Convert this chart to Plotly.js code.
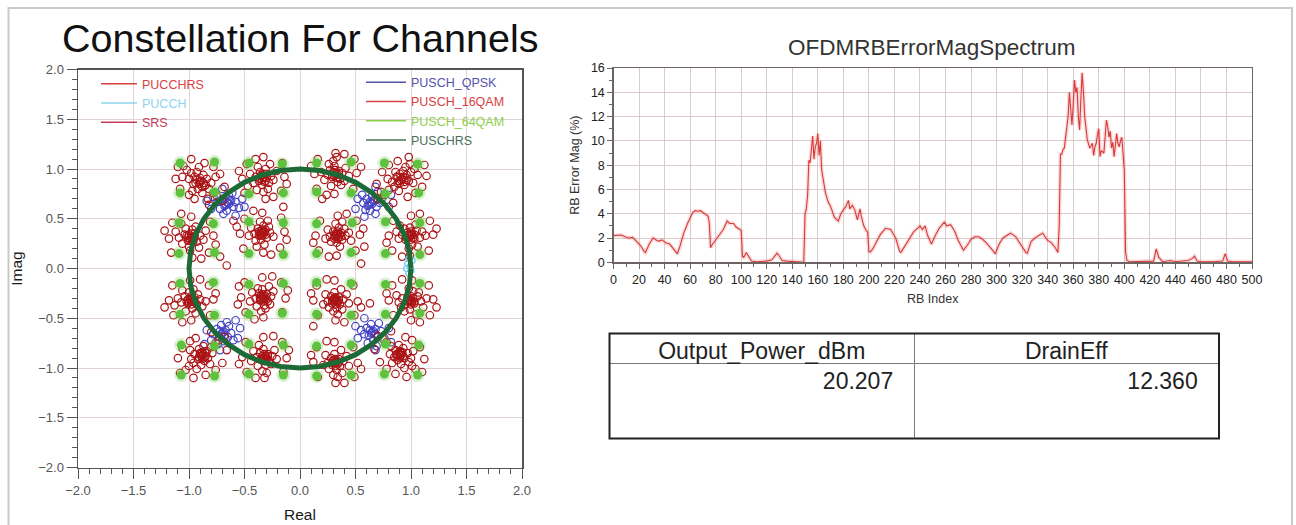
<!DOCTYPE html>
<html>
<head>
<meta charset="utf-8">
<script src="https://cdn.plot.ly/plotly-3.0.1.min.js"></script>
<style>
  html, body { margin: 0; padding: 0; background: #ffffff; }
  #chart { width: 1296px; height: 525px; }
</style>
</head>
<body>
<div id="chart"></div>
<script>
// ---------------- DATA ----------------
// Constellation: PUSCH 16QAM symbols [real, imag]
const qam16Points = [
  [-0.90,0.87],[-0.95,0.92],[-0.86,0.83],[-0.98,0.96],[-0.82,0.80],[-0.92,0.80],[-0.87,0.94],[-1.02,0.99],[-0.78,0.76],[-0.96,0.85],[-0.84,0.90],[-0.93,0.97],[-0.80,0.86],[-1.00,0.90],[-0.88,0.76],[-0.75,0.73],[-1.05,1.03],[-0.91,1.02],[-0.83,0.70],[-0.97,0.78],[-0.76,0.92],[-1.06,0.92],
  [-1.10,1.02],[-0.70,0.68],[-1.08,0.80],[-0.72,0.95],[-0.98,1.10],[-0.82,0.64],[-1.12,0.90],[-0.68,0.82],[-0.95,0.70],[-0.78,1.02],[-1.00,0.74],[-0.86,1.06],
  [-0.89,0.88],[-0.91,0.85],[-0.87,0.86],[-0.93,0.89],[-0.85,0.84],[-0.90,0.91],[-0.88,0.82],[-0.94,0.86],
  [-0.33,0.91],[-0.30,0.95],[-0.37,0.88],[-0.28,0.86],[-0.36,0.97],[-0.40,0.92],[-0.26,0.93],[-0.34,0.84],[-0.31,1.00],[-0.42,0.86],[-0.24,0.89],[-0.38,1.02],[-0.29,0.80],[-0.45,0.95],[-0.33,0.77],[-0.21,0.98],[-0.47,0.83],[-0.27,1.05],[-0.39,0.79],[-0.35,0.94],
  [-0.52,0.90],[-0.14,0.92],[-0.33,1.12],[-0.31,0.70],[-0.48,1.05],[-0.17,0.78],[-0.50,0.76],[-0.16,1.06],[-0.40,1.10],[-0.24,0.72],[-0.55,0.98],[-0.12,0.85],
  [-0.32,0.92],[-0.34,0.89],[-0.31,0.88],[-0.35,0.93],[-0.30,0.91],[-0.36,0.90],[-0.33,0.95],[-0.32,0.87],
  [0.32,0.95],[0.35,0.98],[0.29,0.92],[0.36,0.90],[0.27,0.99],[0.31,1.03],[0.38,0.96],[0.25,0.94],[0.34,0.87],[0.30,1.08],[0.41,1.01],[0.22,0.89],[0.37,0.84],[0.28,0.83],[0.44,0.93],[0.26,1.05],[0.33,1.12],[0.19,0.97],[0.40,0.88],[0.31,0.99],
  [0.13,0.95],[0.51,0.96],[0.32,1.16],[0.31,0.75],[0.16,1.10],[0.48,0.80],[0.15,0.80],[0.49,1.10],[0.40,1.15],[0.24,0.74],[0.55,1.02],[0.10,1.03],
  [0.33,0.96],[0.31,0.93],[0.34,0.92],[0.30,0.97],[0.35,0.95],[0.29,0.94],[0.32,0.99],[0.33,0.91],
  [0.92,0.90],[0.88,0.86],[0.96,0.94],[0.85,0.82],[1.00,0.97],[0.90,0.95],[0.94,0.84],[0.80,0.79],[1.03,1.00],[0.87,0.92],[0.98,0.88],[0.83,0.87],[0.95,1.02],[0.76,0.74],[1.06,0.94],[0.89,0.78],[0.99,1.05],[0.79,0.90],[0.93,0.98],[1.02,0.86],[0.86,0.97],[0.73,0.77],
  [1.12,1.04],[0.70,0.70],[1.10,0.82],[0.74,0.97],[0.98,1.12],[0.84,0.66],[1.14,0.93],[0.69,0.85],[0.97,0.72],[0.80,1.04],[1.04,0.76],[0.88,1.08],
  [0.91,0.89],[0.93,0.92],[0.89,0.88],[0.95,0.91],[0.90,0.86],[0.94,0.87],[0.88,0.92],[0.96,0.89],
  [-0.98,0.31],[-0.95,0.35],[-1.01,0.28],[-0.93,0.27],[-1.04,0.34],[-0.97,0.39],[-1.06,0.25],[-0.90,0.33],[-1.00,0.22],[-0.94,0.42],[-1.09,0.31],[-0.87,0.29],[-1.03,0.40],[-0.99,0.18],[-1.12,0.37],[-0.91,0.21],[-0.85,0.38],[-1.07,0.45],[-0.96,0.30],[-1.02,0.33],
  [-1.18,0.30],[-0.78,0.33],[-0.98,0.52],[-0.97,0.11],[-1.15,0.46],[-0.82,0.16],[-1.16,0.16],[-0.81,0.47],[-1.07,0.55],[-0.89,0.10],[-1.22,0.38],[-0.76,0.24],
  [-0.97,0.32],[-0.99,0.29],[-0.96,0.28],[-1.00,0.34],[-0.95,0.32],[-1.01,0.31],[-0.98,0.35],[-0.97,0.27],
  [-0.34,0.36],[-0.31,0.39],[-0.37,0.33],[-0.30,0.31],[-0.38,0.40],[-0.33,0.43],[-0.41,0.35],[-0.27,0.36],[-0.35,0.29],[-0.40,0.28],[-0.28,0.42],[-0.36,0.47],[-0.44,0.41],[-0.24,0.32],[-0.32,0.24],[-0.46,0.33],[-0.29,0.48],[-0.39,0.22],[-0.33,0.37],[-0.35,0.34],
  [-0.54,0.35],[-0.14,0.37],[-0.34,0.56],[-0.33,0.16],[-0.50,0.50],[-0.18,0.21],[-0.51,0.20],[-0.17,0.51],[-0.42,0.58],[-0.26,0.14],[-0.57,0.42],[-0.12,0.29],
  [-0.33,0.35],[-0.35,0.38],[-0.32,0.37],[-0.36,0.35],[-0.34,0.33],[-0.31,0.34],[-0.37,0.37],[-0.34,0.39],
  [0.34,0.33],[0.37,0.36],[0.31,0.30],[0.38,0.29],[0.30,0.37],[0.35,0.41],[0.41,0.33],[0.27,0.32],[0.33,0.26],[0.40,0.40],[0.28,0.27],[0.36,0.22],[0.44,0.36],[0.25,0.39],[0.32,0.45],[0.46,0.28],[0.23,0.30],[0.38,0.47],[0.34,0.35],[0.32,0.32],
  [0.14,0.33],[0.54,0.34],[0.34,0.53],[0.33,0.13],[0.18,0.48],[0.50,0.18],[0.17,0.18],[0.51,0.48],[0.42,0.55],[0.26,0.12],[0.57,0.40],[0.12,0.26],
  [0.33,0.34],[0.35,0.31],[0.36,0.34],[0.32,0.35],[0.34,0.30],[0.37,0.32],[0.31,0.33],[0.34,0.37],
  [1.00,0.33],[0.97,0.36],[1.03,0.30],[0.95,0.29],[1.05,0.38],[0.99,0.41],[0.92,0.34],[1.08,0.31],[1.01,0.24],[0.94,0.40],[1.10,0.37],[0.89,0.30],[1.04,0.44],[0.98,0.20],[1.13,0.33],[0.90,0.43],[1.06,0.22],[0.87,0.37],[1.01,0.34],[0.96,0.31],
  [0.80,0.33],[1.20,0.34],[1.00,0.53],[0.99,0.13],[0.84,0.48],[1.16,0.18],[0.83,0.18],[1.17,0.48],[1.08,0.55],[0.92,0.12],[1.23,0.40],[0.78,0.26],
  [0.99,0.32],[1.01,0.35],[0.98,0.34],[1.02,0.31],[0.97,0.33],[1.03,0.34],[1.00,0.29],[1.00,0.37],
  [-0.98,-0.32],[-0.95,-0.29],[-1.01,-0.35],[-0.93,-0.36],[-1.04,-0.28],[-0.97,-0.40],[-0.90,-0.31],[-1.07,-0.34],[-1.00,-0.24],[-0.92,-0.26],[-1.10,-0.30],[-0.88,-0.38],[-1.03,-0.43],[-0.96,-0.21],[-1.13,-0.37],[-0.85,-0.33],[-1.06,-0.22],[-0.94,-0.45],[-0.99,-0.31],[-1.02,-0.33],
  [-1.18,-0.32],[-0.78,-0.31],[-0.98,-0.52],[-0.99,-0.12],[-1.14,-0.47],[-0.82,-0.17],[-1.15,-0.17],[-0.81,-0.47],[-1.06,-0.54],[-0.90,-0.11],[-1.22,-0.39],[-0.76,-0.25],
  [-0.97,-0.33],[-0.99,-0.30],[-0.96,-0.31],[-1.00,-0.34],[-0.95,-0.33],[-1.01,-0.31],[-0.98,-0.36],[-0.98,-0.28],
  [-0.33,-0.29],[-0.30,-0.26],[-0.36,-0.32],[-0.29,-0.33],[-0.37,-0.25],[-0.32,-0.37],[-0.40,-0.30],[-0.26,-0.28],[-0.34,-0.21],[-0.39,-0.38],[-0.27,-0.36],[-0.35,-0.43],[-0.43,-0.24],[-0.24,-0.23],[-0.31,-0.40],[-0.45,-0.33],[-0.28,-0.18],[-0.38,-0.20],[-0.33,-0.31],[-0.35,-0.27],
  [-0.53,-0.29],[-0.13,-0.30],[-0.33,-0.49],[-0.34,-0.09],[-0.49,-0.44],[-0.17,-0.14],[-0.50,-0.14],[-0.16,-0.44],[-0.41,-0.51],[-0.25,-0.08],[-0.56,-0.36],[-0.11,-0.22],
  [-0.32,-0.30],[-0.34,-0.28],[-0.31,-0.28],[-0.35,-0.31],[-0.33,-0.26],[-0.30,-0.31],[-0.36,-0.29],[-0.33,-0.33],
  [0.32,-0.32],[0.35,-0.29],[0.29,-0.35],[0.36,-0.36],[0.28,-0.28],[0.33,-0.40],[0.39,-0.31],[0.25,-0.33],[0.31,-0.24],[0.38,-0.41],[0.26,-0.39],[0.34,-0.46],[0.42,-0.26],[0.23,-0.26],[0.30,-0.43],[0.44,-0.35],[0.21,-0.36],[0.37,-0.21],[0.33,-0.33],[0.31,-0.30],
  [0.12,-0.32],[0.52,-0.33],[0.32,-0.52],[0.31,-0.12],[0.16,-0.47],[0.48,-0.17],[0.15,-0.17],[0.49,-0.47],[0.40,-0.54],[0.24,-0.11],[0.55,-0.39],[0.10,-0.25],
  [0.33,-0.31],[0.31,-0.33],[0.34,-0.34],[0.30,-0.31],[0.32,-0.29],[0.35,-0.32],[0.29,-0.32],[0.32,-0.36],
  [1.00,-0.32],[0.97,-0.29],[1.03,-0.35],[0.95,-0.36],[1.06,-0.28],[0.99,-0.41],[0.92,-0.30],[1.09,-0.33],[1.02,-0.23],[0.94,-0.43],[1.11,-0.39],[0.89,-0.34],[1.05,-0.46],[0.98,-0.20],[1.14,-0.30],[0.87,-0.27],[1.07,-0.24],[0.91,-0.39],[1.01,-0.33],[0.97,-0.33],
  [0.80,-0.32],[1.20,-0.31],[1.00,-0.52],[1.01,-0.12],[0.84,-0.47],[1.16,-0.17],[0.83,-0.17],[1.17,-0.47],[1.08,-0.54],[0.92,-0.11],[1.23,-0.39],[0.78,-0.25],
  [0.99,-0.31],[1.01,-0.34],[0.98,-0.33],[1.02,-0.30],[0.97,-0.32],[1.03,-0.33],[1.00,-0.28],[1.00,-0.36],
  [-0.88,-0.87],[-0.84,-0.83],[-0.92,-0.91],[-0.80,-0.79],[-0.96,-0.95],[-0.86,-0.93],[-0.91,-0.81],[-0.76,-0.75],[-1.00,-0.98],[-0.83,-0.90],[-0.95,-0.86],[-0.89,-0.97],[-0.79,-0.85],[-0.98,-0.91],[-0.73,-0.72],[-0.87,-0.78],[-1.03,-1.02],[-0.93,-1.01],[-0.81,-0.96],[-0.99,-0.82],[-0.85,-0.88],[-0.90,-0.85],
  [-1.08,-1.05],[-0.68,-0.69],[-1.06,-0.80],[-0.70,-0.95],[-0.96,-1.10],[-0.80,-0.64],[-1.10,-0.90],[-0.66,-0.82],[-0.94,-0.70],[-0.76,-1.02],[-0.99,-0.73],[-0.85,-1.07],
  [-0.87,-0.86],[-0.89,-0.88],[-0.86,-0.89],[-0.90,-0.86],[-0.88,-0.84],[-0.85,-0.85],[-0.91,-0.89],[-0.88,-0.91],
  [-0.32,-0.89],[-0.29,-0.86],[-0.35,-0.92],[-0.28,-0.93],[-0.36,-0.85],[-0.31,-0.97],[-0.39,-0.89],[-0.25,-0.88],[-0.33,-0.81],[-0.38,-0.98],[-0.26,-0.96],[-0.34,-1.03],[-0.42,-0.83],[-0.23,-0.82],[-0.30,-1.05],[-0.44,-0.93],[-0.21,-0.91],[-0.37,-0.77],[-0.32,-0.90],[-0.30,-0.91],
  [-0.52,-0.89],[-0.12,-0.90],[-0.32,-1.10],[-0.33,-0.69],[-0.48,-1.04],[-0.16,-0.74],[-0.49,-0.74],[-0.15,-1.04],[-0.40,-1.10],[-0.24,-0.68],[-0.55,-0.96],[-0.10,-0.82],
  [-0.31,-0.88],[-0.33,-0.90],[-0.30,-0.90],[-0.34,-0.88],[-0.32,-0.86],[-0.29,-0.88],[-0.35,-0.91],[-0.32,-0.93],
  [0.32,-0.94],[0.35,-0.91],[0.29,-0.97],[0.36,-0.98],[0.28,-0.90],[0.33,-1.02],[0.39,-0.93],[0.25,-0.95],[0.31,-0.86],[0.38,-1.05],[0.26,-1.01],[0.34,-1.09],[0.42,-0.88],[0.23,-0.87],[0.30,-1.07],[0.44,-0.98],[0.21,-0.97],[0.37,-0.82],[0.32,-0.95],[0.30,-0.93],
  [0.12,-0.94],[0.52,-0.95],[0.32,-1.15],[0.31,-0.74],[0.16,-1.09],[0.48,-0.79],[0.15,-0.79],[0.49,-1.09],[0.40,-1.15],[0.24,-0.73],[0.55,-1.01],[0.10,-0.87],
  [0.33,-0.93],[0.31,-0.95],[0.34,-0.96],[0.30,-0.92],[0.32,-0.91],[0.35,-0.94],[0.29,-0.95],[0.32,-0.98],
  [0.90,-0.86],[0.86,-0.82],[0.94,-0.90],[0.82,-0.78],[0.98,-0.94],[0.88,-0.92],[0.93,-0.80],[0.78,-0.74],[1.01,-0.98],[0.85,-0.89],[0.97,-0.85],[0.91,-0.96],[0.81,-0.86],[1.00,-0.90],[0.75,-0.71],[0.89,-0.77],[1.04,-1.01],[0.94,-1.00],[0.83,-0.95],[1.02,-0.83],[0.87,-0.87],[0.92,-0.84],
  [1.10,-1.04],[0.70,-0.68],[1.08,-0.79],[0.72,-0.94],[0.96,-1.09],[0.82,-0.63],[1.12,-0.91],[0.67,-0.81],[0.95,-0.69],[0.78,-1.01],[1.01,-0.72],[0.86,-1.06],
  [0.89,-0.85],[0.91,-0.87],[0.88,-0.88],[0.92,-0.85],[0.90,-0.83],[0.93,-0.88],[0.87,-0.86],[0.90,-0.90],
  [-0.66,0.03],[-0.72,0.12],[0.58,0.22],[-0.55,-0.18],[0.63,-0.35],[-0.15,0.62],[0.12,-0.58],[-0.60,0.48],[0.55,0.05],[0.20,0.70]
];
// PUSCH QPSK symbols
const qpskPoints = [
  [-0.65,0.66],[-0.62,0.69],[-0.68,0.63],[-0.60,0.62],[-0.70,0.70],[-0.64,0.73],[-0.72,0.60],[-0.58,0.67],[-0.66,0.58],[-0.75,0.67],[-0.61,0.76],[-0.55,0.61],[-0.69,0.55],[-0.78,0.72],
  [-0.80,0.60],[-0.52,0.70],[-0.70,0.80],[-0.58,0.53],[-0.84,0.68],[-0.50,0.62],[-0.64,0.65],[-0.66,0.67],[-0.63,0.68],[-0.67,0.64],
  [0.64,0.66],[0.67,0.69],[0.61,0.63],[0.69,0.62],[0.60,0.70],[0.65,0.73],[0.72,0.66],[0.57,0.66],[0.63,0.58],[0.74,0.71],[0.68,0.55],[0.56,0.74],[0.70,0.77],[0.59,0.59],
  [0.80,0.62],[0.52,0.70],[0.68,0.82],[0.58,0.52],[0.82,0.74],[0.50,0.60],[0.65,0.65],[0.63,0.67],[0.66,0.68],[0.62,0.64],
  [-0.70,-0.65],[-0.67,-0.62],[-0.73,-0.68],[-0.65,-0.69],[-0.75,-0.61],[-0.69,-0.73],[-0.62,-0.65],[-0.78,-0.66],[-0.71,-0.57],[-0.64,-0.58],[-0.80,-0.72],[-0.60,-0.72],[-0.74,-0.76],[-0.66,-0.54],
  [-0.84,-0.62],[-0.56,-0.70],[-0.72,-0.82],[-0.58,-0.52],[-0.86,-0.76],[-0.54,-0.60],[-0.69,-0.64],[-0.71,-0.66],[-0.68,-0.67],[-0.72,-0.63],
  [0.65,-0.64],[0.68,-0.61],[0.62,-0.67],[0.70,-0.68],[0.60,-0.60],[0.66,-0.72],[0.73,-0.63],[0.58,-0.66],[0.64,-0.56],[0.76,-0.70],[0.61,-0.75],[0.71,-0.55],[0.55,-0.62],[0.69,-0.78],
  [0.80,-0.60],[0.52,-0.70],[0.68,-0.82],[0.58,-0.50],[0.82,-0.74],[0.50,-0.58],[0.66,-0.63],[0.64,-0.65],[0.67,-0.66],[0.63,-0.62]
];
// PUSCH 64QAM symbols
const qam64Points = [
  [-1.08,1.06],[-0.77,1.07],[-0.46,1.06],[-0.16,1.05],[0.15,1.06],[0.46,1.07],[0.76,1.06],[1.06,1.05],
  [-1.08,0.76],[-0.77,0.77],[-0.46,0.75],[-0.15,0.76],[0.15,0.77],[0.46,0.76],[0.77,0.75],[1.07,0.76],
  [-1.09,0.46],[-0.78,0.45],[-0.46,0.47],[-0.15,0.46],[0.15,0.45],[0.47,0.46],[0.77,0.47],[1.08,0.46],
  [-1.09,0.15],[-0.77,0.16],[-0.46,0.15],[-0.15,0.14],[0.15,0.15],[0.46,0.16],[0.77,0.15],[1.08,0.14],
  [-1.08,-0.15],[-0.78,-0.14],[-0.46,-0.16],[-0.15,-0.15],[0.15,-0.14],[0.46,-0.15],[0.77,-0.16],[1.08,-0.15],
  [-1.08,-0.46],[-0.77,-0.47],[-0.46,-0.46],[-0.16,-0.45],[0.15,-0.46],[0.46,-0.47],[0.77,-0.46],[1.08,-0.45],
  [-1.07,-0.77],[-0.77,-0.78],[-0.46,-0.76],[-0.15,-0.77],[0.15,-0.78],[0.46,-0.77],[0.77,-0.76],[1.07,-0.77],
  [-1.07,-1.07],[-0.77,-1.08],[-0.46,-1.06],[-0.15,-1.07],[0.15,-1.08],[0.46,-1.07],[0.76,-1.06],[1.06,-1.07]
];
// PUCCH symbols
const pucchPoints = [[0.97,0.05],[0.99,0.02],[1.00,-0.02],[0.98,-0.05],[1.01,0.08],[0.96,0.00],[0.98,0.10]];
// PUSCH reference signal (constant amplitude ring)
const puschRsReal = [1,0.985,0.940,0.866,0.766,0.643,0.5,0.342,0.174,0,-0.174,-0.342,-0.5,-0.643,-0.766,-0.866,-0.940,-0.985,-1,-0.985,-0.940,-0.866,-0.766,-0.643,-0.5,-0.342,-0.174,0,0.174,0.342,0.5,0.643,0.766,0.866,0.940,0.985,1];
const puschRsImag = [0,0.174,0.342,0.5,0.643,0.766,0.866,0.940,0.985,1,0.985,0.940,0.866,0.766,0.643,0.5,0.342,0.174,0,-0.174,-0.342,-0.5,-0.643,-0.766,-0.866,-0.940,-0.985,-1,-0.985,-0.940,-0.866,-0.766,-0.643,-0.5,-0.342,-0.174,0];

// Legend entries
const legendLeftNames = ['PUCCHRS','PUCCH','SRS'];
const legendLeftColors = ['#d9413f','#8ed3ee','#c63a58'];
const legendRightNames = ['PUSCH_QPSK','PUSCH_16QAM','PUSCH_64QAM','PUSCHRS'];
const legendRightColors = ['#5353ad','#d9413f','#8cd04a','#4a7058'];

// OFDM RB error magnitude spectrum [RB index, error %]
const rbErrorSpectrum = [
  [0,2.2],[3,2.2],[6,2.25],[9,2.1],[12,2.0],[15,2.05],[18,1.7],[21,1.4],[24,0.9],[25,0.8],[28,1.5],[31,2.0],[34,1.8],[36,1.75],[38,1.85],[41,1.6],[44,1.5],[47,1.1],[50,0.7],[52,1.3],[55,2.4],[58,3.2],[62,4.1],[64,4.25],[66,4.2],[68,4.25],[70,4.1],[72,3.9],[74,3.8],[75,3.3],[76,1.2],[77,1.4],[79,1.7],[81,1.9],[84,2.4],[86,2.7],[89,3.4],[91,3.2],[94,3.2],[96,2.9],[99,2.7],[100,2.6],
  [101,0.5],[102,0.4],[104,0.8],[106,0.5],[108,0.1],[112,0.05],[116,0.05],[120,0.1],[124,0.2],[126,0.5],[128,0.75],[130,0.5],[132,0.15],[136,0.1],[140,0.05],[144,0.05],[148,0],[149,0],
  [150,4.0],[151,4.4],[152,5.5],[153,8.4],[154,8.2],[156,10.4],[157,8.5],[158,9.5],[159,9.8],[160,10.6],[161,8.8],[162,10.0],[163,7.6],[165,6.2],[166,5.7],[168,5.0],[170,4.6],[173,3.7],[176,3.4],[178,4.0],[180,4.3],[182,4.6],[184,5.1],[185,4.4],[187,4.7],[189,4.3],[191,3.5],[193,4.4],[194,3.8],[196,3.0],[198,2.6],[199,2.5],
  [200,0.9],[201,0.85],[203,1.1],[206,1.7],[209,2.3],[213,2.8],[217,2.7],[221,2.0],[224,0.9],[225,0.8],[228,1.3],[232,1.9],[235,2.5],[238,2.8],[240,3.0],[242,2.7],[244,3.0],[246,2.2],[249,1.5],[252,2.2],[255,2.8],[259,3.3],[261,3.0],[264,3.1],[267,2.6],[270,1.8],[274,1.0],[277,1.4],[280,1.9],[283,2.1],[286,2.1],[289,1.9],[292,1.6],[296,1.1],[299,0.7],
  [302,1.5],[305,2.0],[308,2.2],[311,2.4],[315,2.1],[319,1.4],[323,0.8],[324,0.75],[327,1.7],[330,2.0],[333,2.2],[336,2.4],[340,1.8],[343,1.6],[346,1.2],[348,0.8],[349,2.9],
  [350,8.9],[351,8.9],[352,9.3],[353,9.4],[355,10.9],[356,12.0],[357,14.0],[358,12.5],[359,11.3],[360,13.0],[361,15.0],[362,14.0],[363,14.4],[364,12.0],[365,10.9],[366,13.5],[367,15.6],[368,14.0],[369,12.0],[371,10.1],[373,9.4],[375,9.8],[376,8.8],[377,9.5],[378,9.8],[379,10.5],[380,11.0],[381,8.7],[382,9.2],[384,9.0],[385,10.5],[386,11.7],[387,11.2],[388,10.3],[389,10.8],[390,9.4],[391,9.9],[392,8.7],[393,9.6],[394,10.6],[395,9.8],[396,9.5],[397,10.0],[398,10.3],[399,9.0],[400,7.6],
  [401,0.85],[402,0.17],[404,0.05],[410,0.05],[415,0.05],[420,0.05],[423,0.1],[425,1.1],[427,0.4],[430,0.05],[436,0.15],[440,0.05],[445,0.1],[450,0.15],[453,0.3],[455,0.5],[457,0.1],[460,0.05],[470,0.05],[477,0.1],[479,0.7],[481,0.1],[485,0.05],[490,0.05],[500,0.05]
];

// Summary table
const tableHeaders = ['Output_Power_dBm','DrainEff'];
const tableValues = [20.207, 12.360];

// ---------------- CHART ----------------
const FONT = 'Arial, "Liberation Sans", sans-serif';
const W = 1296, H = 525;
const px = v => v / W;
const py = v => 1 - v / H;

const xs = a => a.map(p => p[0]);
const ys = a => a.map(p => p[1]);

const traces = [];

traces.push({
  type: 'scatter', mode: 'markers', x: xs(qpskPoints), y: ys(qpskPoints),
  xaxis: 'x', yaxis: 'y', showlegend: false, hoverinfo: 'skip',
  marker: { symbol: 'circle-open', size: 7.5, color: '#4444c4', line: { width: 1.2 } }
});
traces.push({
  type: 'scatter', mode: 'markers', x: xs(qam16Points), y: ys(qam16Points),
  xaxis: 'x', yaxis: 'y', showlegend: false, hoverinfo: 'skip',
  marker: { symbol: 'circle-open', size: 7.5, color: '#ab1416', line: { width: 1.2 } }
});
traces.push({
  type: 'scatter', mode: 'markers', x: xs(qam64Points), y: ys(qam64Points),
  xaxis: 'x', yaxis: 'y', showlegend: false, hoverinfo: 'skip',
  marker: { symbol: 'circle', size: 14, color: 'rgba(120,205,90,0.28)', line: { width: 0 } }
});
traces.push({
  type: 'scatter', mode: 'markers', x: xs(qam64Points), y: ys(qam64Points),
  xaxis: 'x', yaxis: 'y', showlegend: false, hoverinfo: 'skip',
  marker: { symbol: 'circle', size: 9, color: '#5fc23e', line: { width: 0 } }
});
traces.push({
  type: 'scatter', mode: 'markers', x: xs(pucchPoints), y: ys(pucchPoints),
  xaxis: 'x', yaxis: 'y', showlegend: false, hoverinfo: 'skip',
  marker: { symbol: 'circle-open', size: 6, color: '#66c8ee', line: { width: 1.2 } }
});
traces.push({
  type: 'scatter', mode: 'lines', x: puschRsReal, y: puschRsImag,
  xaxis: 'x', yaxis: 'y', showlegend: false, hoverinfo: 'skip',
  line: { color: '#1c6a36', width: 5 }
});

// RB error spectrum (soft halo + line)
traces.push({
  type: 'scatter', mode: 'lines', x: xs(rbErrorSpectrum), y: ys(rbErrorSpectrum),
  xaxis: 'x2', yaxis: 'y2', showlegend: false, hoverinfo: 'skip',
  line: { color: 'rgba(235,110,110,0.25)', width: 4 }
});
traces.push({
  type: 'scatter', mode: 'lines', x: xs(rbErrorSpectrum), y: ys(rbErrorSpectrum),
  xaxis: 'x2', yaxis: 'y2', showlegend: false, hoverinfo: 'skip',
  line: { color: '#d83a3a', width: 1.1 }
});

// legend entries
legendLeftNames.forEach((n, i) => traces.push({
  type: 'scatter', mode: 'lines', x: [null], y: [null], xaxis: 'x', yaxis: 'y',
  name: '<span style="color:' + legendLeftColors[i] + '">' + n + '</span>',
  legend: 'legend', line: { color: legendLeftColors[i], width: 1.5 }, hoverinfo: 'skip'
}));
legendRightNames.forEach((n, i) => traces.push({
  type: 'scatter', mode: 'lines', x: [null], y: [null], xaxis: 'x', yaxis: 'y',
  name: '<span style="color:' + legendRightColors[i] + '">' + n + '</span>',
  legend: 'legend2', line: { color: legendRightColors[i], width: 1.5 }, hoverinfo: 'skip'
}));

// table
const tblX0 = 609.5, tblX1 = 1219, tblY0 = 333.5, tblY1 = 438.5;
traces.push({
  type: 'table',
  domain: { x: [px(tblX0), px(tblX1)], y: [py(tblY1), py(tblY0)] },
  columnwidth: [1, 1],
  header: {
    values: tableHeaders, align: 'center', height: 30,
    font: { family: FONT, size: 23, color: '#222' },
    line: { color: '#7a7a7a', width: 1 }, fill: { color: '#ffffff' }
  },
  cells: {
    values: tableValues.map(v => [v.toFixed(3) + '\u00a0\u00a0']),
    align: 'right', height: 75,
    font: { family: FONT, size: 23, color: '#222' },
    line: { color: '#7a7a7a', width: 1 }, fill: { color: '#ffffff' }
  }
});

const axisCommon = {
  showline: true, mirror: true, zeroline: false, showgrid: true,
  ticks: 'outside', tickwidth: 1, fixedrange: true
};

const layout = {
  width: W, height: H,
  margin: { l: 0, r: 0, t: 0, b: 0, pad: 0 },
  paper_bgcolor: '#ffffff', plot_bgcolor: '#ffffff',
  font: { family: FONT, color: '#333' },
  hovermode: false,
  showlegend: true,
  xaxis: Object.assign({}, axisCommon, {
    domain: [px(78), px(522)], anchor: 'y', range: [-2, 2],
    tickmode: 'linear', tick0: -2, dtick: 0.5, tickformat: '.1f',
    ticklen: 10, tickcolor: '#555', linecolor: '#555', linewidth: 1.5,
    gridcolor: '#e2d4d4', gridwidth: 1,
    minor: { dtick: 0.1, tick0: -2, ticklen: 5, tickcolor: '#555', ticks: 'outside', showgrid: false },
    tickfont: { family: FONT, size: 13, color: '#555' },
    title: { text: 'Real', font: { family: FONT, size: 15.5, color: '#1a1a1a' }, standoff: 12 }
  }),
  yaxis: Object.assign({}, axisCommon, {
    domain: [1 - 467.5 / H, 1 - 69.5 / H], anchor: 'x', range: [-2, 2],
    tickmode: 'linear', tick0: -2, dtick: 0.5, tickformat: '.1f',
    ticklen: 10, tickcolor: '#555', linecolor: '#555', linewidth: 1.5,
    gridcolor: '#e2d4d4', gridwidth: 1,
    minor: { dtick: 0.1, tick0: -2, ticklen: 5, tickcolor: '#555', ticks: 'outside', showgrid: false },
    tickfont: { family: FONT, size: 13, color: '#555' },
    title: { text: 'Imag', font: { family: FONT, size: 15.5, color: '#1a1a1a' }, standoff: 12 }
  }),
  xaxis2: Object.assign({}, axisCommon, {
    domain: [px(613.5), px(1252)], anchor: 'y2', range: [0, 500],
    tickmode: 'linear', tick0: 0, dtick: 20,
    ticklen: 5, tickcolor: '#666', linecolor: '#6e6464', linewidth: 1.2,
    gridcolor: '#dccbcb', gridwidth: 1,
    minor: { dtick: 10, tick0: 0, ticklen: 3, tickcolor: '#666', ticks: 'outside', showgrid: false },
    tickfont: { family: FONT, size: 12.5, color: '#222' },
    title: { text: 'RB Index', font: { family: FONT, size: 12.5, color: '#333' }, standoff: 8 }
  }),
  yaxis2: Object.assign({}, axisCommon, {
    domain: [1 - 262.3 / H, 1 - 68 / H], anchor: 'x2', range: [0, 16],
    tickmode: 'linear', tick0: 0, dtick: 2,
    ticklen: 5, tickcolor: '#666', linecolor: '#6e6464', linewidth: 1.2,
    gridcolor: '#dccbcb', gridwidth: 1,
    minor: { dtick: 1, tick0: 0, ticklen: 3, tickcolor: '#666', ticks: 'outside', showgrid: false },
    tickfont: { family: FONT, size: 12.5, color: '#222' },
    title: { text: 'RB Error Mag (%)', font: { family: FONT, size: 12.5, color: '#333' }, standoff: 8 }
  }),
  legend: {
    x: px(96), y: py(69), xanchor: 'left', yanchor: 'top',
    bgcolor: 'rgba(0,0,0,0)', borderwidth: 0, itemwidth: 36,
    font: { family: FONT, size: 12.5, color: '#333' }, tracegroupgap: 0
  },
  legend2: {
    x: px(361), y: py(67.5), xanchor: 'left', yanchor: 'top',
    bgcolor: 'rgba(0,0,0,0)', borderwidth: 0, itemwidth: 40,
    font: { family: FONT, size: 12.5, color: '#333' }, tracegroupgap: 0
  },
  annotations: [
    { text: 'Constellation For Channels', xref: 'paper', yref: 'paper',
      x: px(300), y: py(38), xanchor: 'center', yanchor: 'middle', showarrow: false,
      font: { family: FONT, size: 39.5, color: '#111' } },
    { text: 'OFDMRBErrorMagSpectrum', xref: 'paper', yref: 'paper',
      x: px(931.5), y: py(48), xanchor: 'center', yanchor: 'middle', showarrow: false,
      font: { family: FONT, size: 22.5, color: '#333' } }
  ],
  shapes: [
    { type: 'rect', xref: 'paper', yref: 'paper', x0: px(8.5), x1: px(1292), y0: -0.05, y1: py(8),
      line: { color: '#c9c9c9', width: 2 }, fillcolor: 'rgba(0,0,0,0)', layer: 'above' },
    { type: 'rect', xref: 'paper', yref: 'paper', x0: px(tblX0), x1: px(tblX1), y0: py(tblY1), y1: py(tblY0),
      line: { color: '#222', width: 2 }, fillcolor: 'rgba(0,0,0,0)', layer: 'above' }
  ]
};

Plotly.newPlot('chart', traces, layout, { displayModeBar: false, staticPlot: true });
</script>
</body>
</html>
